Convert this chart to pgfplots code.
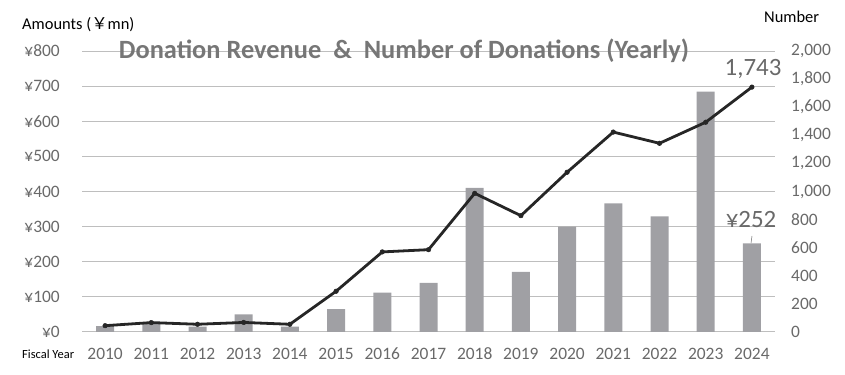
\documentclass[border=0pt]{standalone}
\usepackage{fontspec}
\setmainfont{Carlito}
\newfontfamily\cjk{Noto Sans CJK JP}
\usepackage{pgfplots}
\pgfplotsset{compat=1.18}
\definecolor{barc}{RGB}{160,160,164}
\definecolor{linec}{RGB}{38,38,38}
\definecolor{gridc}{RGB}{190,190,190}
\definecolor{tickc}{RGB}{105,105,105}
\definecolor{titlec}{RGB}{118,118,118}
\begin{document}
\begin{tikzpicture}
\path[use as bounding box] (0bp,0bp) rectangle (845bp,375bp);
\begin{axis}[
  at={(82bp,43bp)}, anchor=south west,
  scale only axis, width=693bp, height=281bp,
  xmin=-0.5, xmax=14.5, ymin=0, ymax=800,
  axis line style={draw=none},
  major tick length=0pt,
  xtick={0,...,14},
  xticklabels={2010,2011,2012,2013,2014,2015,2016,2017,2018,2019,2020,2021,2022,2023,2024},
  ytick={0,100,...,800},
  ymajorgrids,
  major grid style={gridc, line width=1bp},
  /pgf/number format/assume math mode=true,
  yticklabel={¥\pgfmathprintnumber{\tick}},
  ticklabel style={font=\fontsize{17.5}{18}\selectfont, text=tickc, inner sep=0pt},
  yticklabel style={anchor=east, xshift=-22bp},
  xticklabel style={anchor=base, yshift=-28bp},
]
\addplot[ybar, bar width=18bp, fill=barc, draw=none] coordinates {
(0,17) (1,26) (2,15) (3,50) (4,15) (5,65) (6,112) (7,140) (8,410) (9,171) (10,300) (11,366) (12,329) (13,684) (14,252)};
\end{axis}
\begin{axis}[
  at={(82bp,43bp)}, anchor=south west,
  scale only axis, width=693bp, height=281bp,
  xmin=-0.5, xmax=14.5, ymin=0, ymax=2000,
  axis line style={draw=none},
  major tick length=0pt,
  xtick=\empty,
  ytick={0,200,...,2000},
  yticklabel pos=right,
  /pgf/number format/assume math mode=true,
  /pgf/number format/1000 sep={,},
  ticklabel style={font=\fontsize{17.5}{18}\selectfont, text=tickc, inner sep=0pt},
  yticklabel style={anchor=west, xshift=16bp},
  clip=false,
]
\addplot[color=linec, line width=2.8bp, mark=*, mark size=2.3bp, mark options={fill=linec, line width=0.5bp}] coordinates {
(0,45) (1,67) (2,55) (3,68) (4,55) (5,290) (6,570) (7,586) (8,987) (9,828) (10,1137) (11,1423) (12,1343) (13,1493) (14,1743)};
\end{axis}
\node[anchor=center, font=\fontsize{26.5}{28}\bfseries, text=titlec, inner sep=0pt] at (404bp,324bp) {Donation Revenue~~\&~~Number of Donations (Yearly)};
\node[anchor=west, font=\fontsize{16.5}{18}\selectfont, inner sep=0pt] at (22bp,350bp) {Amounts ({\cjk ￥}mn)};
\node[anchor=west, font=\fontsize{16.5}{18}\selectfont, inner sep=0pt] at (764bp,358bp) {Number};
\node[anchor=west, font=\fontsize{12.5}{14}\selectfont, inner sep=0pt] at (22bp,21bp) {Fiscal Year};
\node[anchor=center, font=\fontsize{25}{27}\selectfont, text=tickc, inner sep=0pt] at (753bp,306bp) {1,743};
\node[anchor=center, font=\fontsize{25}{27}\selectfont, text=tickc, inner sep=0pt] at (751bp,155bp) {¥252};
\draw[tickc, line width=0.5bp] (752bp,139bp) -- (751bp,132bp);
\end{tikzpicture}
\end{document}
